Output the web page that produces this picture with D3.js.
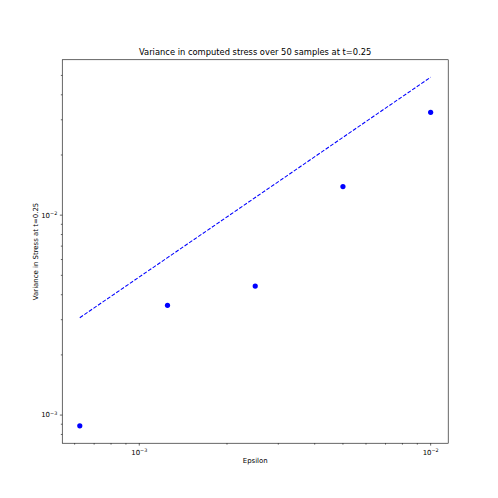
<!DOCTYPE html>
<html><head><meta charset="utf-8">
<script src="https://cdn.jsdelivr.net/npm/d3@7"></script>
<style>body{margin:0;background:#fff}svg{display:block}text{font-family:"DejaVu Sans",sans-serif;fill:#000}</style>
</head><body><svg id="c" width="498" height="498"></svg>
<script>
const epsilon = [0.000625, 0.00125, 0.0025, 0.005, 0.01];
const variance = [0.000884, 0.00354, 0.00442, 0.0139, 0.0327];
const reference = [0.00307, 0.00613, 0.01225, 0.0245, 0.049];
const xMajorTicks = [1e-3, 1e-2];
const yMajorTicks = [1e-3, 1e-2];
const xTickLabels = ["−3", "−2"];
const yTickLabels = ["−3", "−2"];
const title = "Variance in computed stress over 50 samples at t=0.25";
const xLabel = "Epsilon";
const yLabel = "Variance in Stress at t=0.25";

const W = 498, H = 498;
const L = 0.125 * W, R = 0.9 * W, T = (1 - 0.88) * H, B = (1 - 0.11) * H;
const svg = d3.select("#c");

function logDomain(vals) {
  const lo = Math.log10(d3.min(vals)), hi = Math.log10(d3.max(vals));
  const m = (hi - lo) * 0.05;
  return [Math.pow(10, lo - m), Math.pow(10, hi + m)];
}
const x = d3.scaleLog().domain(logDomain(epsilon)).range([L, R]);
const y = d3.scaleLog().domain(logDomain(variance.concat(reference))).range([B, T]);

function minorTicks(scale) {
  const [a, b] = scale.domain();
  const out = [];
  for (let e = Math.floor(Math.log10(a)); e <= Math.ceil(Math.log10(b)); e++) {
    for (let k = 2; k <= 9; k++) {
      const v = k * Math.pow(10, e);
      if (v >= a && v <= b) out.push(v);
    }
  }
  return out;
}

const g = svg.append("g");
g.append("path")
  .datum(epsilon.map((e, i) => [e, reference[i]]))
  .attr("d", d3.line().x(d => x(d[0])).y(d => y(d[1])))
  .attr("fill", "none").attr("stroke", "#0000ff").attr("stroke-width", 1.05)
  .attr("stroke-dasharray", "3.85,1.67");
g.selectAll("circle").data(epsilon.map((e, i) => [e, variance[i]])).enter()
  .append("circle").attr("cx", d => x(d[0])).attr("cy", d => y(d[1]))
  .attr("r", 2.6).attr("fill", "#0000ff");

svg.append("rect").attr("x", L).attr("y", T).attr("width", R - L).attr("height", B - T)
  .attr("fill", "none").attr("stroke", "#000").attr("stroke-width", 0.6);

const xa = svg.append("g").attr("stroke", "#000").attr("stroke-width", 0.6);
xMajorTicks.forEach(v => xa.append("line").attr("x1", x(v)).attr("x2", x(v)).attr("y1", B).attr("y2", B + 2.4));
minorTicks(x).forEach(v => xa.append("line").attr("x1", x(v)).attr("x2", x(v)).attr("y1", B).attr("y2", B + 1.4));
xMajorTicks.forEach((v, i) => {
  const t = svg.append("text").attr("x", x(v)).attr("y", B + 11.3).attr("text-anchor", "middle").attr("font-size", 6.94).attr("fill", "#000");
  t.append("tspan").text("10");
  t.append("tspan").attr("dy", -2.8).attr("font-size", 4.9).text(xTickLabels[i]);
});
const ya = svg.append("g").attr("stroke", "#000").attr("stroke-width", 0.6);
yMajorTicks.forEach(v => ya.append("line").attr("x1", L).attr("x2", L - 2.4).attr("y1", y(v)).attr("y2", y(v)));
minorTicks(y).forEach(v => ya.append("line").attr("x1", L).attr("x2", L - 1.4).attr("y1", y(v)).attr("y2", y(v)));
yMajorTicks.forEach((v, i) => {
  const t = svg.append("text").attr("x", L - 5).attr("y", y(v) + 2.4).attr("text-anchor", "end").attr("font-size", 6.94).attr("fill", "#000");
  t.append("tspan").text("10");
  t.append("tspan").attr("dy", -2.8).attr("font-size", 4.9).text(yTickLabels[i]);
});

svg.append("text").attr("x", (L + R) / 2).attr("y", T - 4.5).attr("text-anchor", "middle").attr("font-size", 8.33).attr("fill", "#000").text(title);
svg.append("text").attr("x", (L + R) / 2).attr("y", 463).attr("text-anchor", "middle").attr("font-size", 6.94).attr("fill", "#000").text(xLabel);
svg.append("text").attr("transform", `translate(37.5,${(T + B) / 2}) rotate(-90)`).attr("text-anchor", "middle").attr("font-size", 6.94).attr("fill", "#000").text(yLabel);
</script></body></html>
